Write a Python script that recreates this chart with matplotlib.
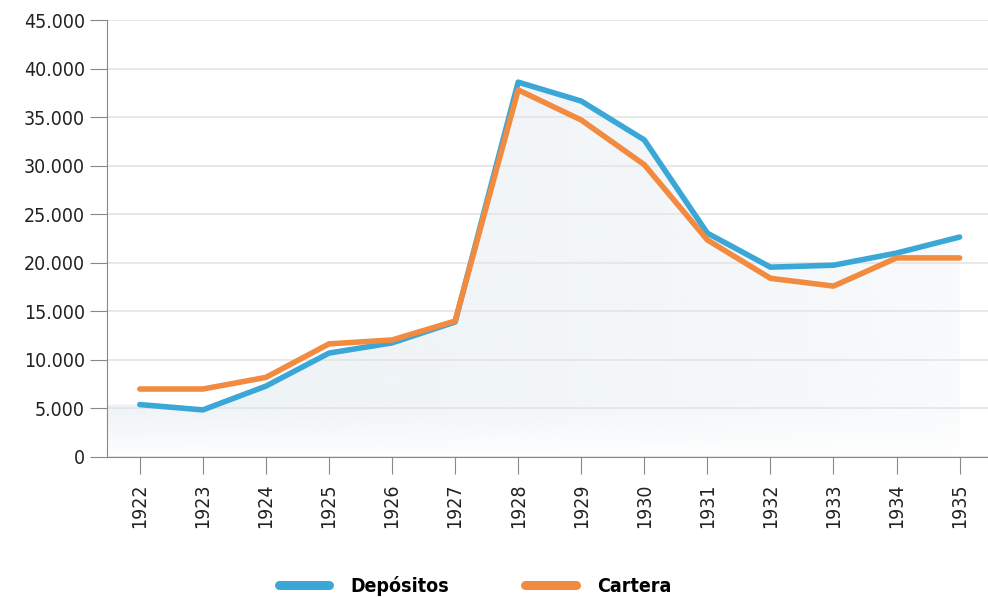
import numpy as np
import matplotlib.pyplot as plt
from matplotlib.ticker import FuncFormatter, MultipleLocator

plt.rcParams['font.family'] = ['DejaVu Sans']
plt.rcParams['font.stretch'] = 'condensed'

# Datos
anios = ['1922', '1923', '1924', '1925', '1926', '1927', '1928',
         '1929', '1930', '1931', '1932', '1933', '1934', '1935']
depositos = [5400, 4850, 7300, 10700, 11750, 13900, 38600,
             36650, 32650, 23050, 19550, 19750, 21000, 22650]
cartera = [7000, 7000, 8200, 11650, 12050, 14000, 37800,
           34700, 30100, 22350, 18400, 17600, 20500, 20500]

azul = '#3ba7d6'
naranja = '#f28a40'

fig = plt.figure(figsize=(9.88, 5.97), dpi=100)
ax = fig.add_axes([107/988, 1 - 457/597, 1 - 107/988, (457 - 20)/597])

x = np.arange(len(anios))
x0, x1 = -0.52, len(anios) - 1 + 0.45
ax.set_xlim(x0, x1)
ax.set_ylim(0, 45000)

# Relleno con degradado bajo la serie de depósitos (desde el eje hasta 1935)
xf = np.concatenate([[x0], x])
yf = np.concatenate([[depositos[0]], depositos])
poly = ax.fill_between(xf, 0, yf, color='none', lw=0)
n = 600
gx = np.linspace(0, 1, n)
gy = np.linspace(0, 45000, n)
GX, GY = np.meshgrid(gx, gy)
alpha = np.clip(GY / 5500, 0, 1) ** 0.8 * (1 - 0.65 * GX ** 1.5)
img = np.zeros((n, n, 4))
img[..., 0] = 0xee / 255
img[..., 1] = 0xf3 / 255
img[..., 2] = 0xf6 / 255
img[..., 3] = alpha
im = ax.imshow(img, extent=[x0, x1, 0, 45000], origin='lower', aspect='auto',
               interpolation='bilinear', zorder=0.2)
im.set_clip_path(poly.get_paths()[0], transform=ax.transData)

ax.plot(x, depositos, color=azul, lw=4.0, solid_capstyle='round', solid_joinstyle='round',
        zorder=3, label='Depósitos')
ax.plot(x, cartera, color=naranja, lw=4.0, solid_capstyle='round', solid_joinstyle='round',
        zorder=3, label='Cartera')

ax.yaxis.set_major_locator(MultipleLocator(5000))
ax.yaxis.set_major_formatter(FuncFormatter(lambda v, p: f'{int(v):,}'.replace(',', '.')))
ax.grid(axis='y', color='#e4e4e4', lw=1.2)
ax.set_axisbelow(True)

ax.set_xticks(x)
ax.set_xticklabels(anios, rotation=90)
ax.tick_params(axis='y', length=12, color='#888888', labelsize=14, labelcolor='#222222', pad=4)
ax.tick_params(axis='x', length=12, color='#888888', labelsize=14, labelcolor='#222222', pad=7)

for s in ['top', 'right']:
    ax.spines[s].set_visible(False)
ax.spines['left'].set_color('#888888')
ax.spines['bottom'].set_color('#888888')

leg = fig.legend(loc='center', bbox_to_anchor=(0.481, 0.018), ncol=2, frameon=False,
                 handlelength=2.6, handletextpad=1.1, columnspacing=3.9,
                 prop={'weight': 'bold', 'size': 14})
for h in leg.get_lines():
    h.set_linewidth(6.5)

fig.savefig('out.png', dpi=100)
